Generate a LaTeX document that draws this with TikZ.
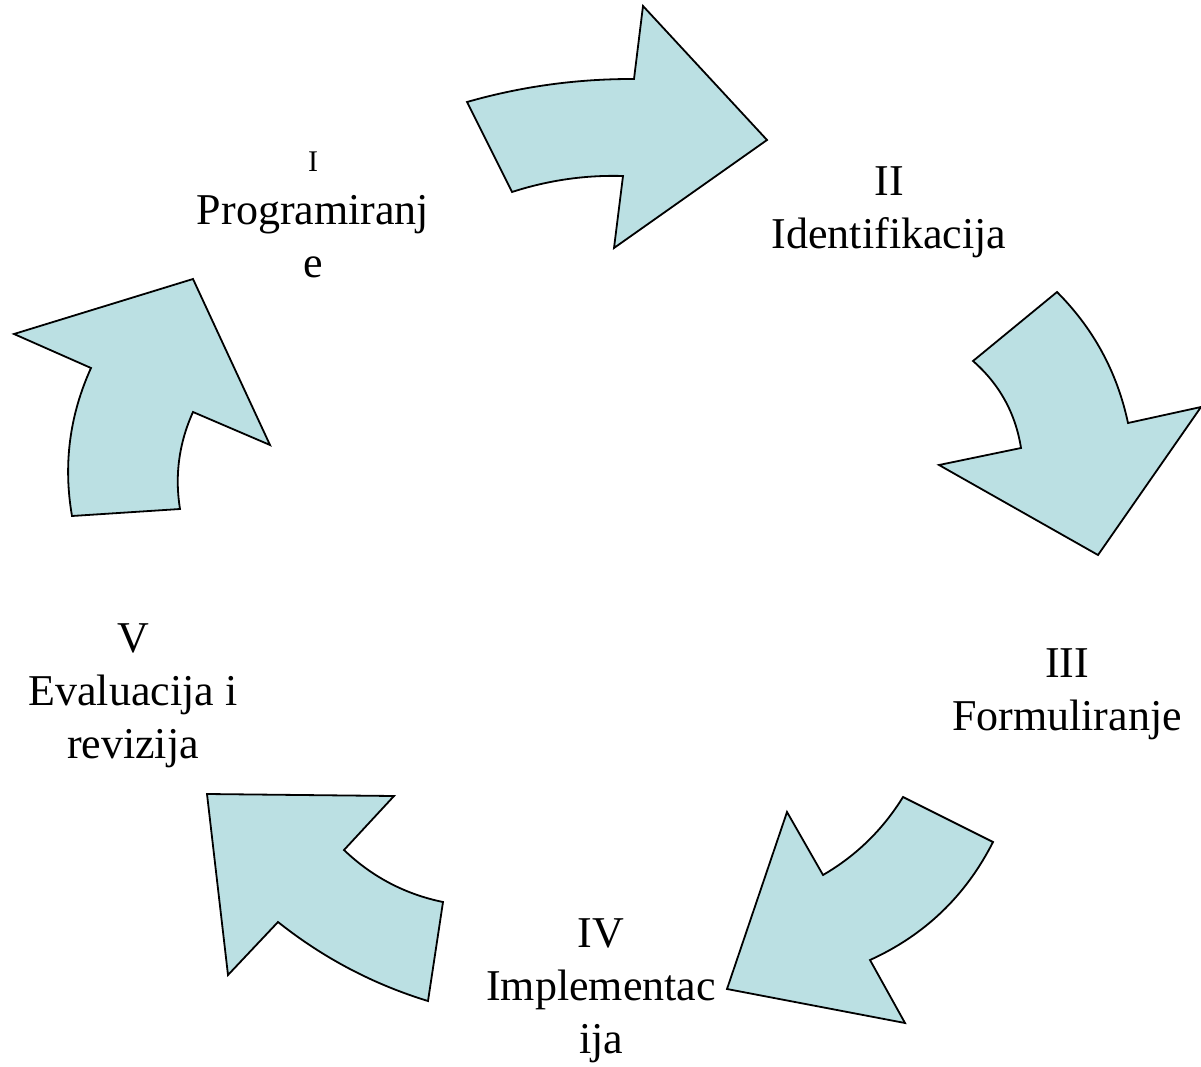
\documentclass[tikz,border=0pt]{standalone}
\usepackage{fontspec}
\setmainfont{Liberation Serif}
\definecolor{arrowfill}{RGB}{187,224,227}
\tikzset{blockarrow/.style={fill=arrowfill,draw=black,line width=1.8pt,line join=miter},
phase/.style={align=center,anchor=base,font=\fontsize{44}{53}\selectfont,inner sep=0pt}}

\begin{document}
\begin{tikzpicture}[x=1pt,y=-1pt]
\useasboundingbox (0,0) rectangle (1201,1067);

\path[blockarrow] (467,102) .. controls (521.6,86.4) and (577.2,78.8) .. (634,79) -- (643,6) -- (767,140) -- (614,248) -- (623,176) .. controls (585.1,174.9) and (548.1,180.3) .. (512,192) -- cycle;
\path[blockarrow] (1057,292) .. controls (1093.6,328.7) and (1117.2,372.3) .. (1128,423) -- (1201,407) -- (1098,555) -- (939,465) -- (1021,448) .. controls (1015.5,413.2) and (999.5,384.2) .. (973,361) -- cycle;
\path[blockarrow] (993,842) .. controls (965.8,895.7) and (924.8,935.1) .. (870,960) -- (905,1023) -- (727,989) -- (787,812) -- (823,875) .. controls (856.2,855.7) and (882.8,829.7) .. (903,797) -- cycle;
\path[blockarrow] (207,794) -- (394,796) -- (344,850) .. controls (372,876.8) and (405,894.2) .. (443,902) -- (428,1001) .. controls (373,984.2) and (323,957.8) .. (278,922) -- (228,975) -- cycle;
\path[blockarrow] (180,509) .. controls (174.6,475.4) and (179,443) .. (193,412) -- (270,445) -- (193,279) -- (14,334) -- (91,368) .. controls (69.5,415.4) and (63.1,464.8) .. (72,516) -- cycle;

\node[phase] (0) at (313,277) {{\fontsize{30}{53}\selectfont I}\\Programiranj\\e};
\node[phase] (1) at (889,249) {II\\Identifikacija};
\node[phase] (2) at (1067,730) {III\\Formuliranje};
\node[phase] (3) at (601,1053) {IV\\Implementac\\ija};
\node[phase] (4) at (133,758) {V\\Evaluacija i\\revizija};
\end{tikzpicture}
\end{document}
